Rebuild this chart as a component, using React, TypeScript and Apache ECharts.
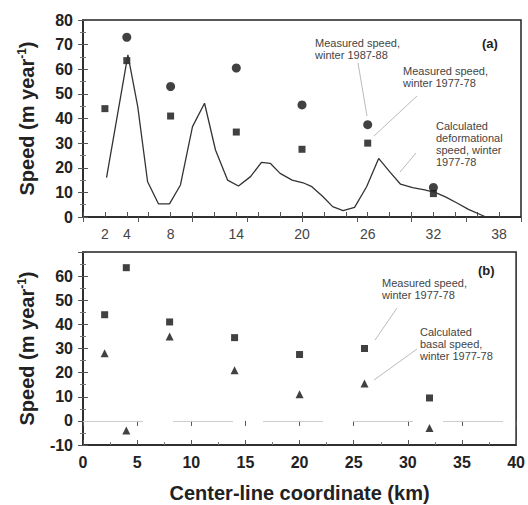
import React, { useEffect, useRef } from "react";
import * as echarts from "echarts";

const measuredX = [2, 4, 8, 14, 20, 26, 32];
const speed1977 = [44, 63.5, 41, 34.5, 27.5, 30, 9.5];
const circleX = [4, 8, 14, 20, 26, 32];
const speed1987 = [73, 53, 60.5, 45.5, 37.5, 12];
const basalSpeed = [28, -4, 35, 21, 11, 15.5, -3];
const deformX = [2.15, 4.1, 5.0, 5.9, 6.9, 7.9, 8.9, 10.0, 11.1, 12.1, 13.2, 14.2, 15.3, 16.3, 17.1, 18.0, 19.1, 20.1, 20.9, 21.9, 22.8, 23.75, 24.8, 25.9, 27.0, 28.0, 29.0, 30.1, 31.2, 32.2, 33.1, 34.2, 35.2, 36.8];
const deformY = [16, 65.8, 44.8, 14.3, 5.3, 5.3, 13, 36.7, 46.2, 27.2, 15, 12.6, 16.4, 22.2, 21.8, 17.7, 15, 13.9, 12.3, 8.3, 4.2, 2.6, 3.9, 12.3, 23.8, 18.4, 13.3, 11.9, 11, 9.9, 8.2, 5.6, 3.1, 0];
const topTickLabels = [2, 4, 8, 14, 20, 26, 32, 38];

const FONT = "Arial, 'Liberation Sans', sans-serif";

export default function App() {
  const ref = useRef<HTMLDivElement>(null);
  useEffect(() => {
    if (!ref.current) return;
    const chart = echarts.init(ref.current, undefined, { renderer: "svg" });
    const zip = (xs: number[], ys: number[]) => xs.map((x, i) => [x, ys[i]]);
    const yName = "{a|Speed (m year}{s|-1}{a|)}";
    const nameRich = {
      a: { fontSize: 20, fontWeight: "bold", fontFamily: FONT, color: "#222" },
      s: { fontSize: 12, fontWeight: "bold", fontFamily: FONT, color: "#222", verticalAlign: "top", padding: [0, 0, 10, 0] },
    };
    const tickInside = { show: true, inside: true, length: 5, lineStyle: { color: "#555" } };
    const minorInside = { show: true, splitNumber: 2, length: 3, lineStyle: { color: "#777" } };
    const annot = (x: number, y: number, text: string) => ({
      type: "text",
      x,
      y,
      style: { text, fontSize: 11, fontFamily: FONT, fill: "#444", lineHeight: 12 },
    });
    const leader = (x1: number, y1: number, x2: number, y2: number) => ({
      type: "line",
      shape: { x1, y1, x2, y2 },
      style: { stroke: "#bbb", lineWidth: 1 },
    });
    chart.setOption({
      animation: false,
      backgroundColor: "#fff",
      grid: [
        { left: 83, right: 7, top: 20, height: 197, show: true, borderColor: "#222", borderWidth: 1.5 },
        { left: 83, right: 7, top: 252, height: 193, show: true, borderColor: "#222", borderWidth: 1.5 },
      ],
      xAxis: [
        {
          type: "value", gridIndex: 0, min: 0, max: 40, interval: 2,
          axisLine: { show: true, onZero: false, lineStyle: { color: "#222", width: 1.5 } },
          axisTick: tickInside, splitLine: { show: false },
          axisLabel: {
            margin: 10, fontSize: 14, fontFamily: FONT, color: "#444",
            formatter: (v: number) => (topTickLabels.includes(v) ? String(v) : ""),
          },
        },
        {
          type: "value", gridIndex: 1, min: 0, max: 40, interval: 5,
          name: "Center-line coordinate (km)", nameLocation: "middle", nameGap: 38,
          nameTextStyle: { fontSize: 20, fontWeight: "bold", fontFamily: FONT, color: "#222" },
          axisLine: { show: true, onZero: false, lineStyle: { color: "#222", width: 1.5 } },
          axisTick: tickInside, minorTick: minorInside, splitLine: { show: false },
          axisLabel: { margin: 9, fontSize: 16, fontWeight: "bold", fontFamily: FONT, color: "#222" },
        },
        {
          type: "value", gridIndex: 0, position: "top", min: 0, max: 40, interval: 5,
          axisLine: { show: false }, axisTick: tickInside, axisLabel: { show: false }, splitLine: { show: false },
        },
        {
          type: "value", gridIndex: 1, position: "top", min: 0, max: 40, interval: 5,
          axisLine: { show: false }, axisTick: tickInside, axisLabel: { show: false }, splitLine: { show: false },
        },
      ],
      yAxis: [
        {
          type: "value", gridIndex: 0, min: 0, max: 80, interval: 10,
          name: yName, nameLocation: "middle", nameGap: 45, nameTextStyle: { rich: nameRich },
          axisLine: { show: true, lineStyle: { color: "#222", width: 1.5 } },
          axisTick: tickInside, minorTick: minorInside, splitLine: { show: false },
          axisLabel: { margin: 10, fontSize: 16, fontWeight: "bold", fontFamily: FONT, color: "#222" },
        },
        {
          type: "value", gridIndex: 1, min: -10, max: 70, interval: 10,
          name: yName, nameLocation: "middle", nameGap: 45, nameTextStyle: { rich: nameRich },
          axisLine: { show: true, lineStyle: { color: "#222", width: 1.5 } },
          axisTick: tickInside, minorTick: minorInside, splitLine: { show: false },
          axisLabel: {
            margin: 10, fontSize: 16, fontWeight: "bold", fontFamily: FONT, color: "#222",
            formatter: (v: number) => (v === 70 ? "" : String(v)),
          },
        },
        {
          type: "value", gridIndex: 0, position: "right", min: 0, max: 80, interval: 10,
          axisLine: { show: false }, axisTick: tickInside, minorTick: minorInside, axisLabel: { show: false }, splitLine: { show: false },
        },
        {
          type: "value", gridIndex: 1, position: "right", min: -10, max: 70, interval: 10,
          axisLine: { show: false }, axisTick: tickInside, minorTick: minorInside, axisLabel: { show: false }, splitLine: { show: false },
        },
      ],
      series: [
        {
          type: "line", xAxisIndex: 0, yAxisIndex: 0, data: zip(deformX, deformY),
          showSymbol: false, symbol: "none", lineStyle: { color: "#333", width: 1.3 },
        },
        {
          type: "scatter", xAxisIndex: 0, yAxisIndex: 0, data: zip(circleX, speed1987),
          symbol: "circle", symbolSize: 9, itemStyle: { color: "#111" },
        },
        {
          type: "scatter", xAxisIndex: 0, yAxisIndex: 0, data: zip(measuredX, speed1977),
          symbol: "rect", symbolSize: 7, itemStyle: { color: "#111" },
        },
        {
          type: "scatter", xAxisIndex: 1, yAxisIndex: 1, data: zip(measuredX, speed1977),
          symbol: "rect", symbolSize: 7, itemStyle: { color: "#111" },
          markLine: {
            silent: true, symbol: "none", label: { show: false },
            lineStyle: { color: "#ccc", type: [60, 30], width: 1 },
            data: [{ yAxis: 0 }],
          },
        },
        {
          type: "scatter", xAxisIndex: 1, yAxisIndex: 1, data: zip(measuredX, basalSpeed),
          symbol: "triangle", symbolSize: 8, itemStyle: { color: "#111" },
        },
      ],
      graphic: [
        annot(315, 37, "Measured speed,\nwinter 1987-88"),
        annot(403, 65, "Measured speed,\nwinter 1977-78"),
        annot(436, 120, "Calculated\ndeformational\nspeed, winter\n1977-78"),
        { type: "text", x: 482, y: 37, style: { text: "(a)", fontSize: 13, fontWeight: "bold", fontFamily: FONT, fill: "#222" } },
        leader(358, 63, 367, 116),
        leader(417, 96, 374, 136),
        leader(416, 153, 400, 172),
        annot(382, 277, "Measured speed,\nwinter 1977-78"),
        annot(420, 326, "Calculated\nbasal speed,\nwinter 1977-78"),
        { type: "text", x: 478, y: 264, style: { text: "(b)", fontSize: 13, fontWeight: "bold", fontFamily: FONT, fill: "#222" } },
        leader(397, 308, 375, 340),
        leader(417, 349, 374, 380),
      ],
    });
    return () => chart.dispose();
  }, []);
  return <div ref={ref} style={{ width: 528, height: 505, position: "absolute", left: 0, top: 0 }} />;
}
